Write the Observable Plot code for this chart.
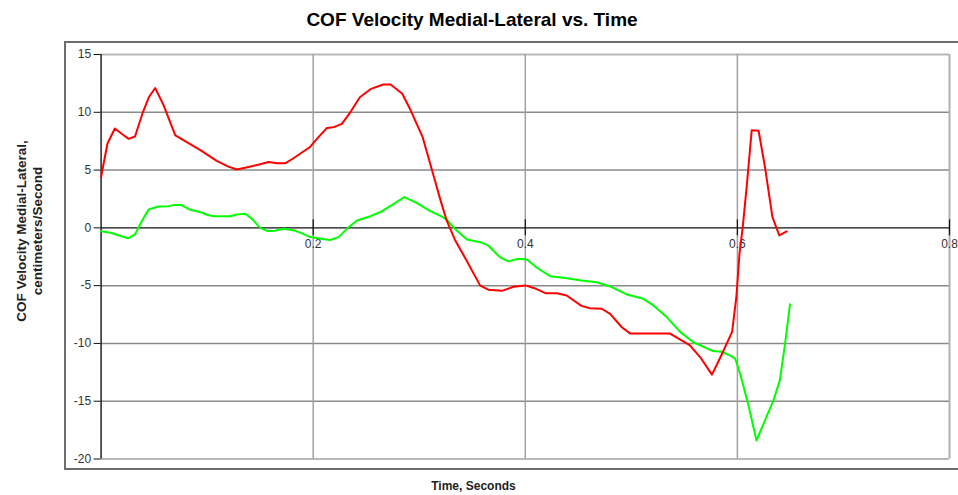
<!DOCTYPE html>
<html>
<head>
<meta charset="utf-8">
<script src="https://cdn.jsdelivr.net/npm/d3@7"></script>
<script src="https://cdn.jsdelivr.net/npm/@observablehq/plot@0.6"></script>
<style>
  body { margin: 0; background: #fff; font-family: "Liberation Sans", Arial, sans-serif; }
  #wrap { position: relative; width: 958px; height: 495px; overflow: hidden; background: #fff; }
  #title { position: absolute; left: 0; top: 9px; width: 944px; text-align: center; font-weight: bold; font-size: 19px; color: #000; }
  #frame { position: absolute; left: 64px; top: 41px; width: 1000px; height: 429px; box-sizing: border-box; border: 2px solid #6e6e6e; border-right: none; }
  #ylab { position: absolute; left: -90.5px; top: 215px; width: 240px; height: 32px; line-height: 16px; text-align: center; font-weight: bold; font-size: 13.5px; color: #222; transform: rotate(-90deg); transform-origin: 50% 50%; white-space: nowrap; }
  #xlab { position: absolute; left: 0; top: 479px; width: 947px; text-align: center; font-weight: bold; font-size: 12px; color: #222; }
  #chart { position: absolute; left: 0; top: 0; }
</style>
</head>
<body>
<div id="wrap">
  <div id="frame"></div>
  <div id="title">COF Velocity Medial-Lateral vs. Time</div>
  <div id="ylab">COF Velocity Medial-Lateral,<br>centimeters/Second</div>
  <div id="xlab">Time, Seconds</div>
  <div id="chart"></div>
</div>
<script>
// Red series: time (s) and velocity (cm/s)
const redTime = [0.000, 0.006, 0.013, 0.020, 0.026, 0.032, 0.039, 0.045, 0.051, 0.059, 0.064, 0.070,
  0.094, 0.109, 0.120, 0.128, 0.138, 0.150, 0.158, 0.166, 0.174, 0.181, 0.197, 0.205, 0.213, 0.219,
  0.227, 0.235, 0.244, 0.254, 0.266, 0.273, 0.284, 0.292, 0.303, 0.312, 0.320, 0.326, 0.334, 0.342,
  0.3575, 0.365, 0.378, 0.389, 0.400, 0.408, 0.419, 0.430, 0.439, 0.453, 0.461, 0.472, 0.480, 0.491,
  0.499, 0.5365, 0.555, 0.565, 0.576, 0.585, 0.595, 0.599, 0.602, 0.605, 0.609, 0.6135, 0.620, 0.626,
  0.633, 0.6395, 0.6465];
const redVelocity = [4.4, 7.3, 8.6, 8.1, 7.7, 7.9, 9.9, 11.3, 12.1, 10.6, 9.4, 8.0,
  6.7, 5.8, 5.3, 5.05, 5.25, 5.5, 5.7, 5.6, 5.6, 6.0, 7.0, 7.85, 8.65, 8.7,
  9.0, 10.0, 11.3, 12.0, 12.4, 12.4, 11.6, 10.15, 7.9, 5.0, 2.4, 0.6, -1.1, -2.4,
  -5.0, -5.35, -5.45, -5.1, -4.98, -5.2, -5.65, -5.65, -5.85, -6.75, -6.95, -7.0, -7.45, -8.6,
  -9.15, -9.15, -10.15, -11.2, -12.7, -11.0, -9.0, -6.0, -2.2, 0.05, 3.8, 8.45, 8.4, 5.25,
  0.95, -0.65, -0.3];

// Green series: time (s) and velocity (cm/s)
const greenTime = [0.000, 0.009, 0.017, 0.0255, 0.032, 0.0387, 0.045, 0.054, 0.064, 0.070, 0.0764, 0.084,
  0.094, 0.100, 0.106, 0.122, 0.128, 0.136, 0.142, 0.150, 0.157, 0.164, 0.172, 0.182, 0.190, 0.197,
  0.207, 0.216, 0.224, 0.2334, 0.2413, 0.254, 0.265, 0.276, 0.286, 0.298, 0.310, 0.321, 0.326, 0.3335,
  0.345, 0.3575, 0.365, 0.376, 0.384, 0.3936, 0.4015, 0.411, 0.4235, 0.436, 0.453, 0.4675, 0.480, 0.4957,
  0.5114, 0.5208, 0.5334, 0.546, 0.5585, 0.577, 0.585, 0.593, 0.598, 0.6025, 0.610, 0.618, 0.626, 0.634,
  0.640, 0.645, 0.6496];
const greenVelocity = [-0.3, -0.42, -0.66, -0.9, -0.57, 0.64, 1.6, 1.85, 1.88, 2.0, 1.95, 1.56,
  1.35, 1.13, 1.01, 1.01, 1.16, 1.22, 0.8, 0.0, -0.28, -0.25, -0.08, -0.22, -0.5, -0.8,
  -0.94, -1.05, -0.8, 0.06, 0.64, 1.01, 1.44, 2.08, 2.66, 2.14, 1.47, 1.0, 0.7, -0.08,
  -1.0, -1.24, -1.52, -2.53, -2.9, -2.67, -2.73, -3.45, -4.18, -4.32, -4.55, -4.7, -5.07, -5.76,
  -6.14, -6.71, -7.72, -9.0, -9.9, -10.66, -10.72, -11.04, -11.32, -12.6, -15.2, -18.4, -16.66, -14.93,
  -13.2, -10.0, -6.6];

// Tick values
const xTicks = [0.2, 0.4, 0.6, 0.8];
const yTicks = [15, 10, 5, 0, -5, -10, -15, -20];
const xTickLabels = ["0.2", "0.4", "0.6", "0.8"];

const redData = redTime.map((t, i) => ({t, v: redVelocity[i]}));
const greenData = greenTime.map((t, i) => ({t, v: greenVelocity[i]}));
const yEdge = [yTicks[0], yTicks[yTicks.length - 1]];
const yInner = yTicks.filter(d => d !== 0 && !yEdge.includes(d));

const plot = Plot.plot({
  width: 958,
  height: 495,
  marginTop: 54,
  marginBottom: 36.5,
  marginLeft: 100.6,
  marginRight: 9,
  x: {domain: [0, 0.8], axis: null},
  y: {domain: [-20, 15], axis: null},
  style: {background: "none", fontFamily: "'Liberation Sans', Arial, sans-serif", fontSize: "12px", color: "#333", overflow: "visible"},
  marks: [
    Plot.ruleY(yInner, {y: d => d, stroke: "#8a8a8a", strokeWidth: 1.5}),
    Plot.ruleY(yEdge, {y: d => d, stroke: "#b8b8b8", strokeWidth: 2}),
    Plot.ruleX(xTicks.slice(0, -1), {x: d => d, stroke: "#a0a0a0", strokeWidth: 1.5}),
    Plot.ruleX(xTicks.slice(-1), {x: d => d, stroke: "#b0b0b0", strokeWidth: 2}),
    Plot.ruleY([0], {y: d => d, stroke: "#111", strokeWidth: 1.2}),
    Plot.ruleX([0], {x: d => d, stroke: "#222", strokeWidth: 1.5}),
    Plot.ruleX(xTicks, {x: d => d, y1: () => 0, y2: () => 0, insetTop: -8, insetBottom: -8, stroke: "#111", strokeWidth: 1.2}),
    Plot.text(xTicks, {x: d => d, y: () => 0, text: (d, i) => xTickLabels[i], dy: 16, fill: "#333", fontSize: 12}),
    Plot.axisY(yTicks, {tickSize: 7, tickPadding: 3, stroke: "#111", fill: "#333", fontSize: 12, tickFormat: d => String(d), label: null}),
    Plot.line(greenData, {x: "t", y: "v", stroke: "#00ff00", strokeWidth: 2}),
    Plot.line(redData, {x: "t", y: "v", stroke: "#ff0000", strokeWidth: 2})
  ]
});
document.getElementById("chart").appendChild(plot);
</script>
</body>
</html>
